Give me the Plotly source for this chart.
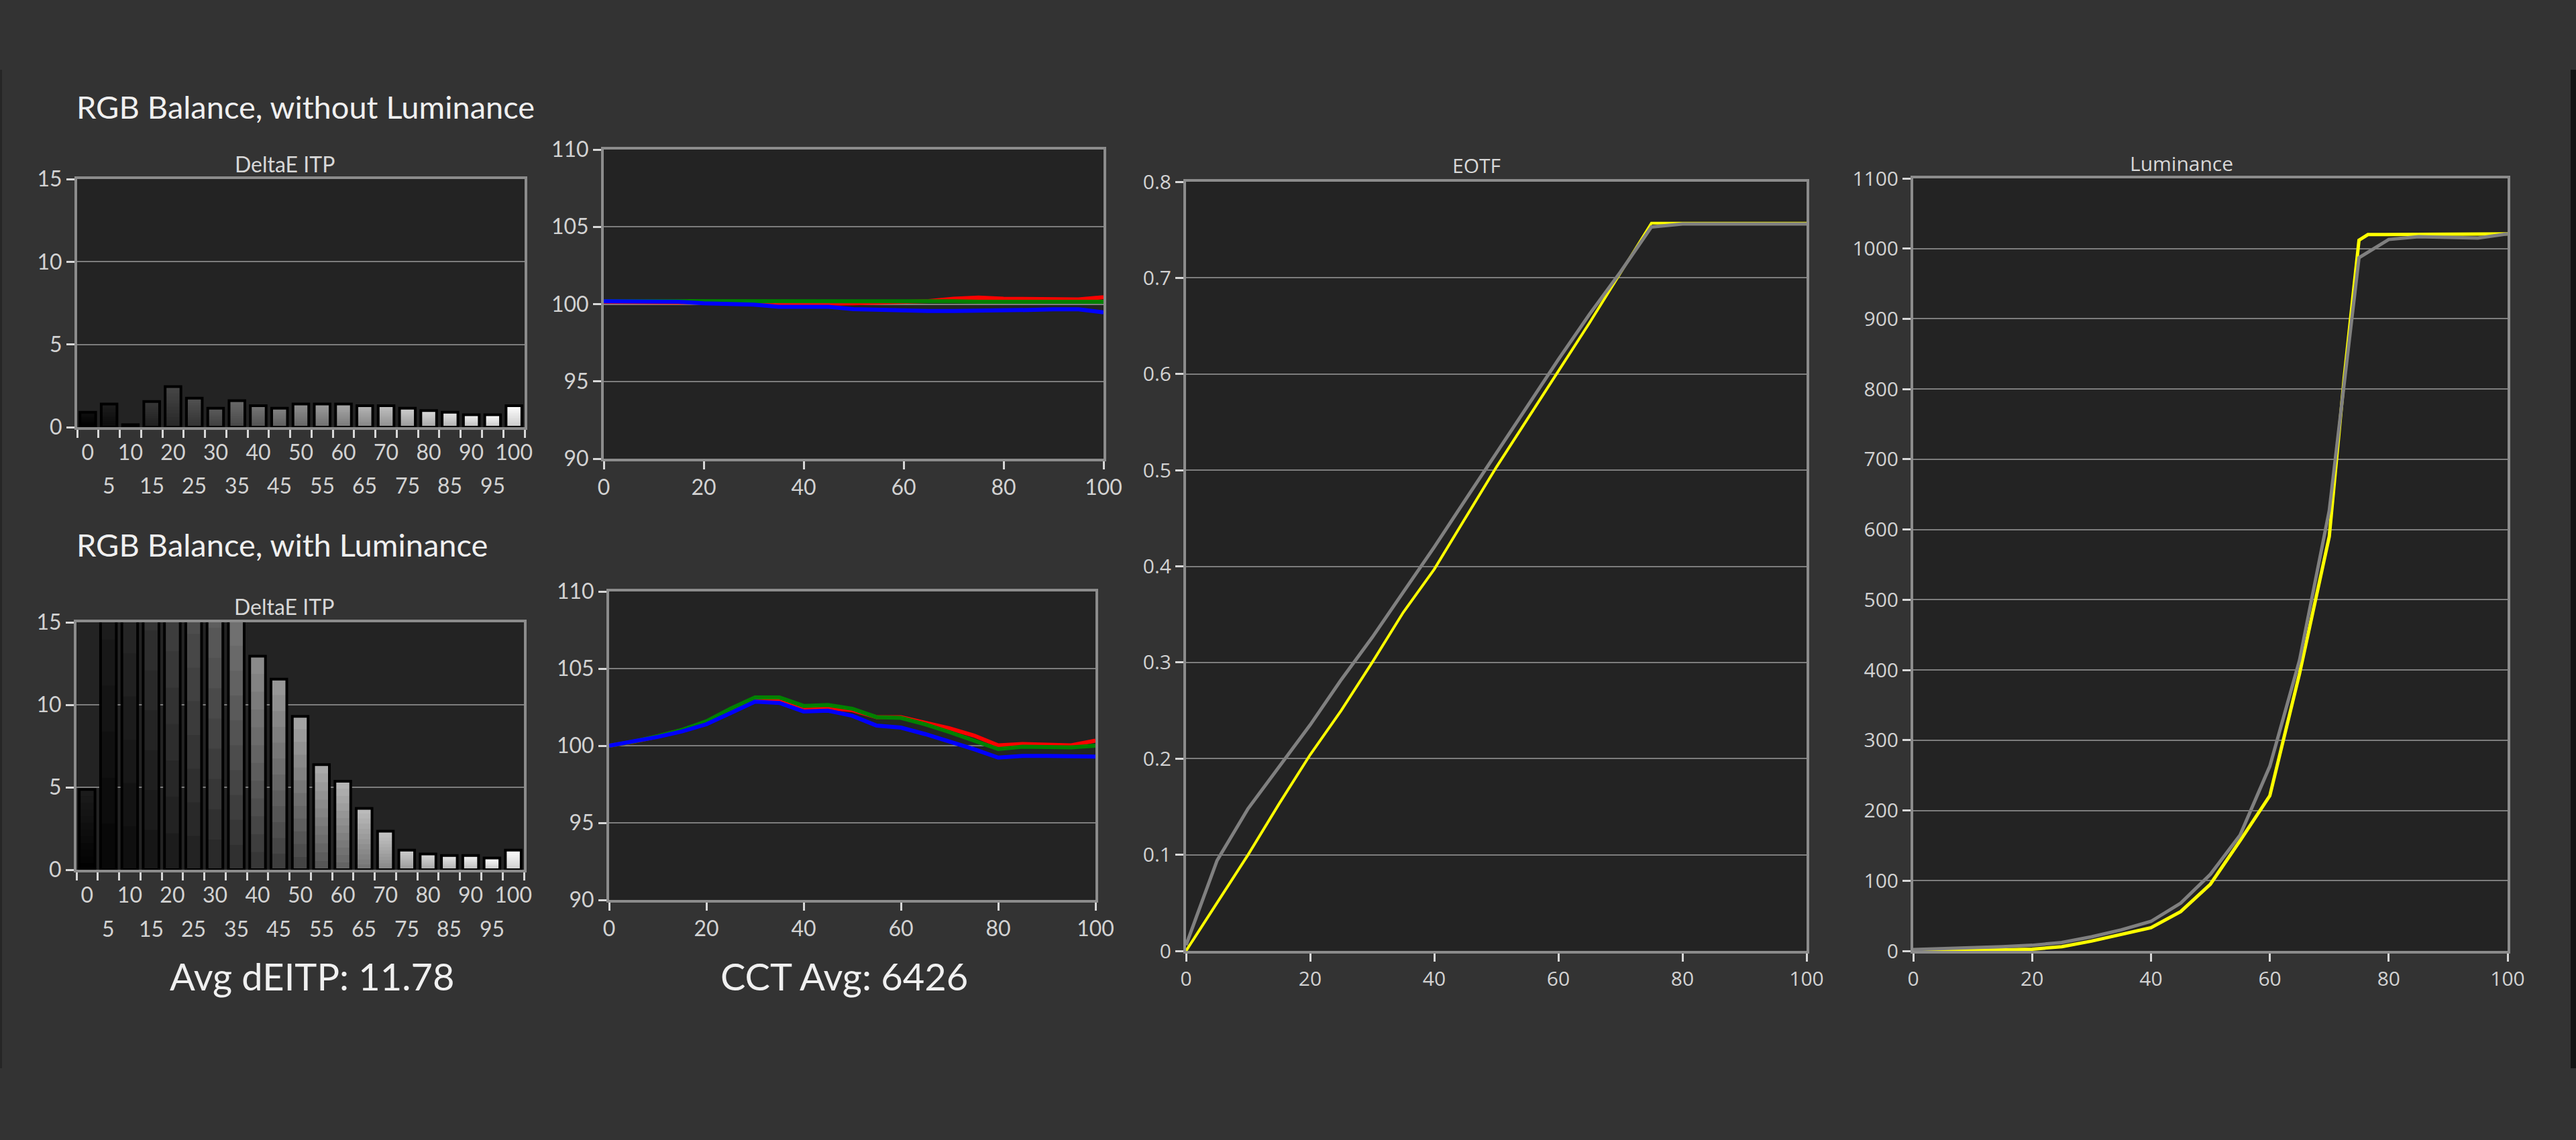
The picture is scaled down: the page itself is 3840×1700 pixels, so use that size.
import plotly.graph_objects as go

W, H = 3840, 1700

# stimulus steps (percent)
steps = ["0", "5", "10", "15", "20", "25", "30", "35", "40", "45", "50",
         "55", "60", "65", "70", "75", "80", "85", "90", "95", "100"]
stim = [0, 5, 10, 15, 20, 25, 30, 35, 40, 45, 50, 55, 60, 65, 70, 75, 80, 85, 90, 95, 100]

# DeltaE ITP per step
de_without_lum = [0.9, 1.4, 0.15, 1.55, 2.45, 1.75, 1.15, 1.6, 1.3, 1.15, 1.4,
                  1.4, 1.4, 1.3, 1.3, 1.15, 1.0, 0.9, 0.75, 0.75, 1.3]
de_with_lum = [4.87, 33.5, 31.5, 29.0, 26.5, 24.5, 22.0, 18.1, 12.95, 11.55, 9.3,
               6.37, 5.37, 3.72, 2.34, 1.19, 0.96, 0.86, 0.86, 0.71, 1.19]

# RGB balance, without luminance
red_nolum = [100.15, 100.15, 100.15, 100.15, 100.1, 100.05, 100.0, 99.98, 100.0, 100.0, 100.05,
             100.1, 100.15, 100.2, 100.35, 100.42, 100.35, 100.32, 100.32, 100.3, 100.45]
green_nolum = [100.2, 100.2, 100.2, 100.22, 100.23, 100.23, 100.23, 100.24, 100.22, 100.22, 100.2,
               100.2, 100.2, 100.2, 100.18, 100.15, 100.15, 100.15, 100.15, 100.15, 100.15]
blue_nolum = [100.18, 100.18, 100.18, 100.15, 100.05, 99.98, 99.97, 99.83, 99.83, 99.83, 99.67,
              99.63, 99.55, 99.55, 99.55, 99.56, 99.58, 99.62, 99.66, 99.66, 99.47]

# RGB balance, with luminance
red_lum = [100.0, 100.25, 100.6, 101.0, 101.5, 102.35, 103.05, 102.95, 102.45, 102.45, 102.3,
           101.85, 101.85, 101.48, 101.12, 100.66, 100.02, 100.11, 100.05, 100.02, 100.33]
green_lum = [100.0, 100.26, 100.62, 101.03, 101.58, 102.4, 103.13, 103.13, 102.58, 102.64, 102.4,
             101.85, 101.8, 101.39, 100.88, 100.33, 99.78, 99.93, 99.89, 99.89, 100.0]
blue_lum = [100.0, 100.26, 100.57, 100.93, 101.39, 102.12, 102.86, 102.77, 102.22, 102.27, 101.94,
            101.3, 101.17, 100.75, 100.29, 99.78, 99.23, 99.34, 99.34, 99.34, 99.29]

# EOTF
eotf_target = [0.006, 0.094, 0.148, 0.191, 0.235, 0.282, 0.326, 0.373, 0.42, 0.469, 0.518,
               0.566, 0.615, 0.662, 0.706, 0.753, 0.756, 0.756, 0.756, 0.756, 0.756]
eotf_measured = [0.0, 0.05, 0.1, 0.153, 0.204, 0.25, 0.3, 0.352, 0.397, 0.45, 0.503,
                 0.553, 0.603, 0.653, 0.705, 0.757, 0.757, 0.757, 0.757, 0.757, 0.757]

# Luminance (cd/m2)
lum_target = [2, 3, 4, 6, 8, 12, 20, 30, 42, 68, 109, 165, 263, 414, 627, 987,
              1013, 1017, 1016, 1015, 1021]
lum_meas_x = [0, 5, 10, 15, 20, 25, 30, 35, 40, 45, 50, 55, 60, 65, 70, 72.5, 75, 76.5,
              80, 85, 90, 95, 100]
lum_measured = [0.3, 0.5, 1, 1.5, 2.5, 6, 14, 23, 33, 56, 95, 157, 221, 395, 590, 815, 1012, 1020,
                1020, 1020, 1020, 1020, 1021]

BG = "#333333"
PLOT_BG = "#232323"
FRAME = "#8c8c8c"
GRID = "#7d7d7d"
TICK_TXT = "#d2d2d2"
LEFT_FONT = "Lato"
RIGHT_FONT = "Open Sans"


def dom_x(left, right):
    return [left / W, right / W]


def dom_y(top, bottom):
    return [1 - bottom / H, 1 - top / H]


def py(p):
    return 1 - p / H


def shade(i, v, t):
    c = 255 * i / 20
    f = min(1.0, 0.3 + v / 12)
    top = min(255, c + 40 * f)
    bot = c * (1 - 0.5 * f)
    g = int(round(bot + (top - bot) * t))
    return f"rgb({g},{g},{g})"


fig = go.Figure()

# gradient bars: overlapping bars from bottom to top, each a bit lighter
N_SEG = 12


def add_bars(vals, xa, ya):
    for k in range(N_SEG):
        base = [v * k / N_SEG for v in vals]
        hgt = [v - b for v, b in zip(vals, base)]
        cols = [shade(i, v, (k + 0.5) / N_SEG) for i, v in enumerate(vals)]
        fig.add_trace(go.Bar(x=steps, y=hgt, base=base, width=0.74,
                             marker=dict(color=cols, line=dict(width=0)),
                             xaxis=xa, yaxis=ya, showlegend=False, hoverinfo="skip"))
    fig.add_trace(go.Bar(x=steps, y=vals, base=[0] * len(vals), width=0.74,
                         marker=dict(color="rgba(0,0,0,0)", line=dict(color="#000000", width=4)),
                         xaxis=xa, yaxis=ya, showlegend=False))


add_bars(de_without_lum, "x", "y")
add_bars(de_with_lum, "x2", "y2")

for vals, col in [(red_nolum, "#ff0000"), (green_nolum, "#008000"), (blue_nolum, "#0000ff")]:
    fig.add_trace(go.Scatter(x=stim, y=vals, mode="lines", line=dict(color=col, width=6),
                             xaxis="x3", yaxis="y3", showlegend=False))
for vals, col in [(red_lum, "#ff0000"), (green_lum, "#008000"), (blue_lum, "#0000ff")]:
    fig.add_trace(go.Scatter(x=stim, y=vals, mode="lines", line=dict(color=col, width=6),
                             xaxis="x4", yaxis="y4", showlegend=False))

fig.add_trace(go.Scatter(x=stim, y=eotf_measured, mode="lines", line=dict(color="#ffff00", width=4),
                         xaxis="x5", yaxis="y5", showlegend=False))
fig.add_trace(go.Scatter(x=stim, y=eotf_target, mode="lines", line=dict(color="#808080", width=5),
                         xaxis="x5", yaxis="y5", showlegend=False))
fig.add_trace(go.Scatter(x=lum_meas_x, y=lum_measured, mode="lines", line=dict(color="#ffff00", width=5),
                         xaxis="x6", yaxis="y6", showlegend=False))
fig.add_trace(go.Scatter(x=stim, y=lum_target, mode="lines", line=dict(color="#808080", width=5),
                         xaxis="x6", yaxis="y6", showlegend=False))


def axis(domain, anchor, family, size=30, **kw):
    d = dict(domain=domain, anchor=anchor, showline=True, mirror=True, linecolor=FRAME, linewidth=4,
             showgrid=True, gridcolor=GRID, gridwidth=2, zeroline=False, automargin=False,
             ticks="outside", ticklen=12, tickwidth=3, tickcolor="#d8d8d8", tickangle=0,
             tickfont=dict(family=family, size=size, color=TICK_TXT), fixedrange=True)
    d.update(kw)
    return d


even_text = [s if i % 2 == 0 else "" for i, s in enumerate(steps)]
bar_x = dict(type="category", range=[-0.5, 20.5], tickvals=steps, ticktext=even_text,
             tickson="boundaries", showgrid=False, ticklabelstandoff=7)
bar_y = dict(range=[0, 15], tickvals=[0, 5, 10, 15])

fig.update_layout(
    width=W, height=H, margin=dict(l=0, r=0, t=0, b=0, pad=0, autoexpand=False),
    paper_bgcolor=BG, plot_bgcolor=PLOT_BG, barmode="overlay", showlegend=False,
    xaxis=axis(dom_x(115, 782), "y", LEFT_FONT, 32, **bar_x),
    yaxis=axis(dom_y(267, 637), "x", LEFT_FONT, 32, **bar_y),
    xaxis2=axis(dom_x(114, 781), "y2", LEFT_FONT, 32, **bar_x),
    yaxis2=axis(dom_y(928, 1297), "x2", LEFT_FONT, 32, **bar_y),
    xaxis3=axis(dom_x(900, 1645), "y3", LEFT_FONT, 32, range=[0, 100], dtick=20, showgrid=False),
    yaxis3=axis(dom_y(223, 684), "x3", LEFT_FONT, 32, range=[90, 110], dtick=5),
    xaxis4=axis(dom_x(908, 1633), "y4", LEFT_FONT, 32, range=[0, 100], dtick=20, showgrid=False),
    yaxis4=axis(dom_y(882, 1342), "x4", LEFT_FONT, 32, range=[90, 110], dtick=5),
    xaxis5=axis(dom_x(1768, 2693), "y5", RIGHT_FONT, range=[0, 100], dtick=20, showgrid=False),
    yaxis5=axis(dom_y(271, 1418), "x5", RIGHT_FONT, range=[0, 0.8], dtick=0.1),
    xaxis6=axis(dom_x(2852, 3738), "y6", RIGHT_FONT, range=[0, 100], dtick=20, showgrid=False),
    yaxis6=axis(dom_y(266, 1418), "x6", RIGHT_FONT, range=[0, 1100], dtick=100),
)

ann = []


def text(x, y, s, size, family, color="#f0f0f0", xanchor="center"):
    ann.append(dict(x=x / W, y=py(y), xref="paper", yref="paper", text=s, showarrow=False,
                    xanchor=xanchor, yanchor="middle",
                    font=dict(family=family, size=size, color=color)))


text(112, 159, "RGB Balance, without Luminance", 47, LEFT_FONT, xanchor="left")
text(424, 245, "DeltaE ITP", 32, LEFT_FONT, color="#d8d8d8")
text(112, 812, "RGB Balance, with Luminance", 47, LEFT_FONT, xanchor="left")
text(423, 904, "DeltaE ITP", 32, LEFT_FONT, color="#d8d8d8")
text(465, 1455, "Avg dEITP: 11.78", 56, LEFT_FONT)
text(1258, 1455, "CCT Avg: 6426", 56, LEFT_FONT)
text(2201, 247, "EOTF", 30, RIGHT_FONT, color="#d8d8d8")
text(3252, 243, "Luminance", 30, RIGHT_FONT, color="#d8d8d8")

# second row of category labels (odd steps), placed by category index
for xa, yrow in [("x", 723), ("x2", 1384)]:
    for i, s in enumerate(steps):
        if i % 2 == 1:
            ann.append(dict(x=i, xref=xa, y=py(yrow), yref="paper", text=s, showarrow=False,
                            xanchor="center", yanchor="middle",
                            font=dict(family=LEFT_FONT, size=32, color=TICK_TXT)))

fig.update_layout(annotations=ann)

# window edges of the original screenshot
fig.add_shape(type="rect", xref="paper", yref="paper", x0=0, x1=3 / W, y0=py(1593), y1=py(104),
              fillcolor="#262626", line=dict(width=0), layer="above")
fig.add_shape(type="rect", xref="paper", yref="paper", x0=3832 / W, x1=1, y0=py(1593), y1=py(104),
              fillcolor="#141414", line=dict(width=0), layer="above")

fig.write_html("out.html", config={"displayModeBar": False},
               post_script="document.body.style.margin='0';")
